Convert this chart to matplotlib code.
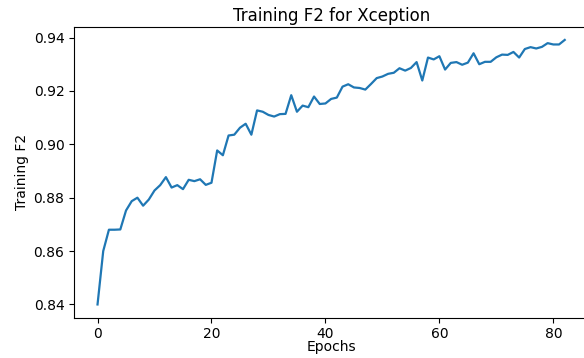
import numpy as np
import matplotlib
matplotlib.use("Agg")
from matplotlib import pyplot as plt

# training F2 per epoch
epochs = np.arange(83)
train_f2 = [
    0.8400, 0.8600, 0.8680, 0.8680, 0.8681, 0.8752, 0.8787, 0.8800, 0.8770, 0.8793,
    0.8827, 0.8847, 0.8877, 0.8838, 0.8847, 0.8832, 0.8867, 0.8862, 0.8869, 0.8848,
    0.8856, 0.8977, 0.8959, 0.9033, 0.9036, 0.9062, 0.9077, 0.9036, 0.9127, 0.9122,
    0.9110, 0.9104, 0.9113, 0.9114, 0.9184, 0.9122, 0.9145, 0.9139, 0.9179, 0.9151,
    0.9153, 0.9170, 0.9175, 0.9216, 0.9225, 0.9213, 0.9211, 0.9205, 0.9226, 0.9248,
    0.9254, 0.9264, 0.9268, 0.9285, 0.9276, 0.9286, 0.9308, 0.9239, 0.9325, 0.9318,
    0.9330, 0.9280, 0.9305, 0.9308, 0.9298, 0.9306, 0.9341, 0.9300, 0.9309, 0.9309,
    0.9326, 0.9336, 0.9335, 0.9346, 0.9325, 0.9357, 0.9364, 0.9359, 0.9365, 0.9379,
    0.9374, 0.9374, 0.9391,
]
yticks = [0.84, 0.86, 0.88, 0.90, 0.92, 0.94]

fig = plt.figure(figsize=(5.84, 3.58), dpi=100)
ax = fig.add_axes([0.127, 0.1126, 0.88, 0.8128])
ax.plot(epochs, train_f2, color='#1f77b4', linewidth=1.6)
ax.set_yticks(yticks)
ax.set_yticklabels(['%.2f' % t for t in yticks])
ax.set_xticks([0, 20, 40, 60, 80])
ax.set_title('Training F2 for Xception', fontsize=12, pad=4)
ax.set_xlabel('Epochs', fontsize=10, labelpad=-1)
ax.set_ylabel('Training F2', fontsize=10, labelpad=3)
ax.tick_params(labelsize=10)

fig.savefig('out.png', dpi=100)
